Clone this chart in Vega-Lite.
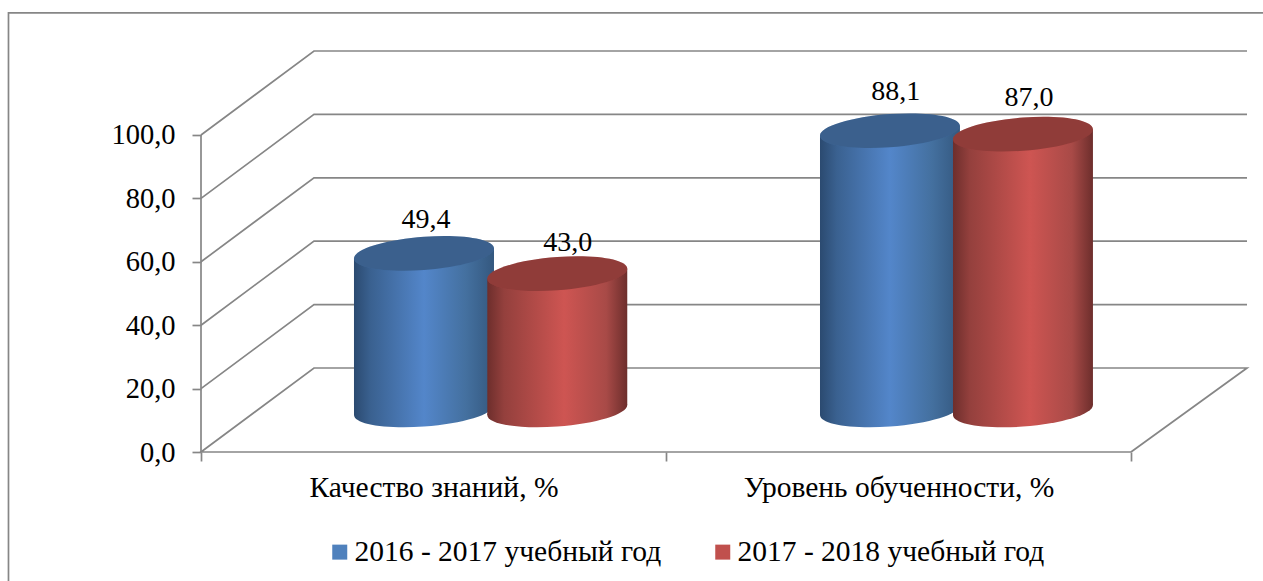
{
"$schema":"https://vega.github.io/schema/vega-lite/v6.json",
"width":1046,"height":404,
"autosize":{"type":"none"},
"padding":{"left":201,"top":48,"right":16,"bottom":129},
"background":"white",
"config":{"view":{"stroke":null},"font":"Liberation Serif"},
"datasets":{
"lines":[
{"id":"frame","o":1,"x":-0.414,"y":-40.7},{"id":"frame","o":2,"x":-0.414,"y":138.5},{"id":"frame","o":3,"x":2.284,"y":138.5},
{"id":"axis","o":1,"x":0,"y":0},{"id":"axis","o":2,"x":0,"y":100},
{"id":"g0","o":1,"x":2,"y":0},{"id":"g0","o":2,"x":0,"y":0},{"id":"g0","o":3,"x":0.243,"y":26.5},{"id":"g0","o":4,"x":2.2495,"y":26.5},{"id":"g0","o":5,"x":2,"y":0},
{"id":"g20","o":1,"x":0,"y":20},{"id":"g20","o":2,"x":0.243,"y":46.5},{"id":"g20","o":3,"x":2.2495,"y":46.5},
{"id":"g40","o":1,"x":0,"y":40},{"id":"g40","o":2,"x":0.243,"y":66.5},{"id":"g40","o":3,"x":2.2495,"y":66.5},
{"id":"g60","o":1,"x":0,"y":60},{"id":"g60","o":2,"x":0.243,"y":86.5},{"id":"g60","o":3,"x":2.2495,"y":86.5},
{"id":"g80","o":1,"x":0,"y":80},{"id":"g80","o":2,"x":0.243,"y":106.5},{"id":"g80","o":3,"x":2.2495,"y":106.5},
{"id":"g100","o":1,"x":0,"y":100},{"id":"g100","o":2,"x":0.243,"y":126.5},{"id":"g100","o":3,"x":2.2495,"y":126.5}
],
"bodies":[
{"cat":"Качество знаний, %","series":"2016 - 2017 учебный год","x":0.329,"y":61.07,"y2":11.67},
{"cat":"Качество знаний, %","series":"2016 - 2017 учебный год","x":0.6301,"y":64.23,"y2":14.83},
{"cat":"Уровень обученности, %","series":"2016 - 2017 учебный год","x":1.3312,"y":99.77,"y2":11.67},
{"cat":"Уровень обученности, %","series":"2016 - 2017 учебный год","x":1.6322,"y":102.93,"y2":14.83},
{"cat":"Качество знаний, %","series":"2017 - 2018 учебный год","x":0.6157,"y":54.67,"y2":11.67},
{"cat":"Качество знаний, %","series":"2017 - 2018 учебный год","x":0.9167,"y":57.83,"y2":14.83},
{"cat":"Уровень обученности, %","series":"2017 - 2018 учебный год","x":1.6172,"y":98.67,"y2":11.67},
{"cat":"Уровень обученности, %","series":"2017 - 2018 учебный год","x":1.9182,"y":101.83,"y2":14.83}
],
"cyl":[
{"cat":"Качество знаний, %","series":"2016 - 2017 учебный год","value":49.4,"label":"49,4","cx":0.4796,"top":62.65,"base":13.25,"lx":0.4839,"ly":70.66},
{"cat":"Качество знаний, %","series":"2017 - 2018 учебный год","value":43.0,"label":"43,0","cx":0.7662,"top":56.25,"base":13.25,"lx":0.7886,"ly":63.5},
{"cat":"Уровень обученности, %","series":"2016 - 2017 учебный год","value":88.1,"label":"88,1","cx":1.4817,"top":101.35,"base":13.25,"lx":1.494,"ly":111.04},
{"cat":"Уровень обученности, %","series":"2017 - 2018 учебный год","value":87.0,"label":"87,0","cx":1.7677,"top":100.25,"base":13.25,"lx":1.7806,"ly":109.24}
]
},
"data":{"name":"lines"},
"layer":[
{"mark":{"type":"line","stroke":"#868686","strokeWidth":1.7,"clip":false},
 "encoding":{
  "x":{"field":"x","type":"quantitative","scale":{"domain":[0,2.2495],"nice":false,"zero":false},
   "axis":{"title":null,"grid":false,"domain":false,"values":[0,0.5,1,1.5,2],"tickSize":9,"tickWidth":1.7,
    "tickColor":{"condition":{"test":"datum.value==0.5||datum.value==1.5","value":"transparent"},"value":"#868686"},
    "labelExpr":"datum.value==0.5?'Качество знаний, %':datum.value==1.5?'Уровень обученности, %':''",
    "labelFont":"Liberation Serif","labelFontSize":29.5,"labelColor":"#000000","labelPadding":12,"labelBaseline":"top","labelFlush":false,"labelOverlap":false,"labelBound":false,"labelLimit":500}},
  "y":{"field":"y","type":"quantitative","scale":{"domain":[0,127.44],"nice":false,"zero":false},
   "axis":{"title":null,"grid":false,"domain":false,"values":[0,20,40,60,80,100],"tickSize":9,"tickWidth":1.7,"tickColor":"#868686",
    "labelExpr":"replace(format(datum.value,'.1f'),'.',',')",
    "labelFont":"Liberation Serif","labelFontSize":28.5,"labelColor":"#000000","labelPadding":17,"labelOverlap":false,"labelBound":false}},
  "detail":{"field":"id"},
  "order":{"field":"o","type":"ordinal"}
 }},
{"data":{"name":"bodies"},"transform":[{"filter":"datum.series=='2016 - 2017 учебный год'"}],
 "mark":{"type":"area","clip":false,"fill":{"gradient":"linear","x1":0,"y1":0,"x2":1,"y2":0,"stops":[{"offset":0,"color":"#2b4a70"},{"offset":0.12,"color":"#3a6190"},{"offset":0.5,"color":"#5386ca"},{"offset":0.8,"color":"#44709f"},{"offset":1,"color":"#34587f"}]}},
 "encoding":{"x":{"field":"x","type":"quantitative"},"y":{"field":"y","type":"quantitative"},"y2":{"field":"y2"},"detail":{"field":"cat"}}},
{"data":{"name":"cyl"},"transform":[{"filter":"datum.series=='2016 - 2017 учебный год'"}],
 "mark":{"type":"point","filled":true,"opacity":1,"clip":false,"size":19600,"shape":"M1,-.0714C1,.0595 .5523,.1976 0,.237C-.5523,.2764 -1,.2023 -1,.0714C-1,-.0595 -.5523,-.1976 0,-.237C.5523,-.2764 1,-.2023 1,-.0714Z","fill":{"gradient":"linear","x1":0,"y1":0,"x2":1,"y2":0,"stops":[{"offset":0,"color":"#2b4a70"},{"offset":0.12,"color":"#3a6190"},{"offset":0.5,"color":"#5386ca"},{"offset":0.8,"color":"#44709f"},{"offset":1,"color":"#34587f"}]}},
 "encoding":{"x":{"field":"cx","type":"quantitative"},"y":{"field":"base","type":"quantitative"}}},
{"data":{"name":"bodies"},"transform":[{"filter":"datum.series=='2017 - 2018 учебный год'"}],
 "mark":{"type":"area","clip":false,"fill":{"gradient":"linear","x1":0,"y1":0,"x2":1,"y2":0,"stops":[{"offset":0,"color":"#6d2e2c"},{"offset":0.12,"color":"#94403d"},{"offset":0.55,"color":"#ce5552"},{"offset":0.85,"color":"#a84a47"},{"offset":1,"color":"#6d2e2c"}]}},
 "encoding":{"x":{"field":"x","type":"quantitative"},"y":{"field":"y","type":"quantitative"},"y2":{"field":"y2"},"detail":{"field":"cat"}}},
{"data":{"name":"cyl"},"transform":[{"filter":"datum.series=='2017 - 2018 учебный год'"}],
 "mark":{"type":"point","filled":true,"opacity":1,"clip":false,"size":19600,"shape":"M1,-.0714C1,.0595 .5523,.1976 0,.237C-.5523,.2764 -1,.2023 -1,.0714C-1,-.0595 -.5523,-.1976 0,-.237C.5523,-.2764 1,-.2023 1,-.0714Z","fill":{"gradient":"linear","x1":0,"y1":0,"x2":1,"y2":0,"stops":[{"offset":0,"color":"#6d2e2c"},{"offset":0.12,"color":"#94403d"},{"offset":0.55,"color":"#ce5552"},{"offset":0.85,"color":"#a84a47"},{"offset":1,"color":"#6d2e2c"}]}},
 "encoding":{"x":{"field":"cx","type":"quantitative"},"y":{"field":"base","type":"quantitative"}}},
{"data":{"name":"cyl"},
 "mark":{"type":"point","filled":true,"opacity":1,"clip":false,"size":19600,"shape":"M1,-.0714C1,.0595 .5523,.1976 0,.237C-.5523,.2764 -1,.2023 -1,.0714C-1,-.0595 -.5523,-.1976 0,-.237C.5523,-.2764 1,-.2023 1,-.0714Z"},
 "encoding":{"x":{"field":"cx","type":"quantitative"},"y":{"field":"top","type":"quantitative"},
  "color":{"field":"series","type":"nominal","scale":{"domain":["2016 - 2017 учебный год","2017 - 2018 учебный год"],"range":["#4f81bd","#c0504d"]},
   "legend":{"title":null,"orient":"none","legendX":124,"legendY":489,"direction":"horizontal","columns":2,"symbolType":"square","symbolSize":225,"symbolStrokeWidth":0,"symbolOpacity":1,"labelFont":"Liberation Serif","labelFontSize":29.5,"labelColor":"#000000","labelOffset":0,"columnPadding":46,"padding":0,"labelLimit":400}}}},
{"data":{"name":"cyl"},
 "mark":{"type":"point","filled":true,"opacity":0.25,"fill":"#000000","clip":false,"size":19600,"shape":"M1,-.0714C1,.0595 .5523,.1976 0,.237C-.5523,.2764 -1,.2023 -1,.0714C-1,-.0595 -.5523,-.1976 0,-.237C.5523,-.2764 1,-.2023 1,-.0714Z"},
 "encoding":{"x":{"field":"cx","type":"quantitative"},"y":{"field":"top","type":"quantitative"}}},
{"data":{"name":"cyl"},
 "mark":{"type":"text","font":"Liberation Serif","fontSize":28,"color":"#000000","align":"center","baseline":"alphabetic","clip":false},
 "encoding":{"x":{"field":"lx","type":"quantitative"},"y":{"field":"ly","type":"quantitative"},"text":{"field":"label"}}}
]
}
